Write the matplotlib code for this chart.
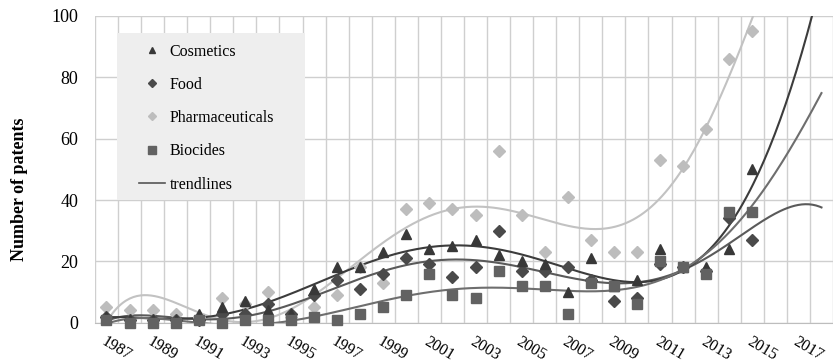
import matplotlib
matplotlib.use('Agg')
import matplotlib.pyplot as plt
import numpy as np
from matplotlib.lines import Line2D
from matplotlib.patches import Rectangle

# patents per year (1987-2015)
years = list(range(1987, 2016))
cosmetics = [2, 1, 1, 1, 3, 5, 7, 4, 3, 11, 18, 18, 23, 29, 24, 25, 27, 22, 20, 19, 10, 21, 12, 14, 24, 18, 18, 24, 50]
food = [2, 1, 1, 1, 1, 3, 3, 6, 3, 9, 14, 11, 16, 21, 19, 15, 18, 30, 17, 17, 18, 14, 7, 8, 19, 18, 17, 34, 27]
pharma = [5, 4, 4, 3, 2, 8, 6, 10, 2, 5, 9, 18, 13, 37, 39, 37, 35, 56, 35, 23, 41, 27, 23, 23, 53, 51, 63, 86, 95]
biocides = [1, 0, 0, 0, 1, 0, 1, 1, 1, 2, 1, 3, 5, 9, 16, 9, 8, 17, 12, 12, 3, 13, 12, 6, 20, 18, 16, 36, 36]

axis_years = list(range(1987, 2019))
trend_order = 6
trend_forward = 3

plt.rcParams['font.family'] = ['Liberation Serif', 'DejaVu Serif']

fig = plt.figure(figsize=(8.33, 3.63), dpi=100)
ax = fig.add_axes([0.114, 0.111, 0.886, 0.845])

idx = np.arange(len(years))


def trend(vals):
    # excel-style polynomial trendline with forward forecast
    c = np.polyfit(idx + 1, vals, trend_order)
    xs = np.linspace(0, len(years) - 1 + trend_forward, 400)
    return xs, np.polyval(c, xs + 1)


series = [
    ('Pharmaceuticals', pharma, 'D', 6, '#bdbdbd', '#c2c2c2'),
    ('Food', food, 'D', 6, '#4a4a4a', '#5a5a5a'),
    ('Cosmetics', cosmetics, '^', 6.5, '#383838', '#3c3c3c'),
    ('Biocides', biocides, 's', 7, '#626262', '#6e6e6e'),
]

for name, vals, mk, ms, col, tcol in series:
    xs, ys = trend(vals)
    ax.plot(xs, ys, color=tcol, lw=1.5, zorder=2)
for name, vals, mk, ms, col, tcol in series:
    ax.plot(idx, vals, linestyle='none', marker=mk, ms=ms, color=col, zorder=3, clip_on=False)

ax.set_xlim(-0.5, 31.37)
ax.set_ylim(0, 100)
ax.set_xticks(np.arange(0, len(axis_years), 2))
ax.set_xticklabels([str(y) for y in axis_years[::2]], rotation=-31, ha='left', va='top',
                   rotation_mode='anchor', fontsize=11.5)
ax.set_xticks(np.arange(-0.5, len(axis_years), 1), minor=True)
ax.set_yticks(range(0, 101, 20))
ax.tick_params(axis='y', length=0, labelsize=13, pad=12)
ax.tick_params(axis='x', which='both', length=0, pad=8)
ax.grid(which='minor', axis='x', color='#cfcfcf', lw=1)
ax.grid(which='major', axis='y', color='#cfcfcf', lw=1)
ax.set_axisbelow(True)
for s in ['top', 'right', 'left']:
    ax.spines[s].set_visible(False)
ax.spines['bottom'].set_color('#bdbdbd')

ax.set_ylabel('Number of patents', fontsize=13, fontweight='bold', va='center')
ax.yaxis.set_label_coords(-0.102, 0.436)

ax.add_patch(Rectangle((0.0298, 0.40), 0.2548, 0.5446, transform=ax.transAxes,
                       facecolor='#eeeeee', edgecolor='none', zorder=1.5))
handles = [
    Line2D([], [], ls='none', marker='^', ms=4.5, color='#383838'),
    Line2D([], [], ls='none', marker='D', ms=4.5, color='#4a4a4a'),
    Line2D([], [], ls='none', marker='D', ms=4.5, color='#bdbdbd'),
    Line2D([], [], ls='none', marker='s', ms=5.5, color='#626262'),
    Line2D([], [], color='#555555', lw=1.2),
]
labels = ['Cosmetics', 'Food', 'Pharmaceuticals', 'Biocides', 'trendlines']
ax.legend(handles, labels, loc='upper left', bbox_to_anchor=(0.06, 0.91), frameon=False,
          fontsize=11.5, handlelength=1.6, handletextpad=0.3, labelspacing=1.08, borderaxespad=0,
          borderpad=0)

fig.savefig('out.png', dpi=100)
